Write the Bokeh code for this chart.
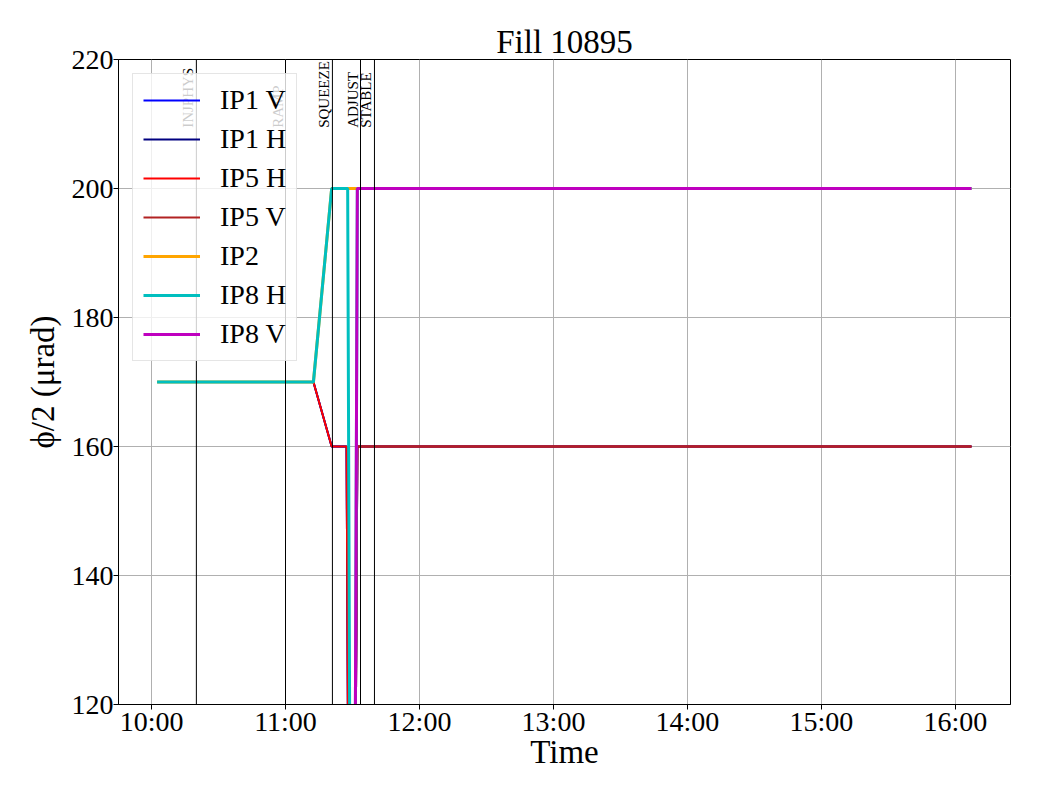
import math
import pandas as pd
from bokeh.plotting import figure
from bokeh.models import (Span, Label, Legend, LegendItem, SingleIntervalTicker,
                          DatetimeTickFormatter, Range1d, FixedTicker)
from bokeh.embed import file_html
from bokeh.resources import INLINE

DAY = "2025-07-14 "

# ---- data ----
t_ip1 = ["10:02:30", "11:12:30", "11:20:40", "11:27:20", "11:29:40", "11:32:10", "16:07:10"]
v_ip1 = [170, 170, 160, 160, 0, 160, 160]
t_ip5h = t_ip1
v_ip5h = v_ip1
t_ip5v = ["11:29:40", "11:32:10", "16:07:10"]
v_ip5v = [0, 160, 160]
t_ip2 = ["10:02:30", "11:12:30", "11:20:40", "16:07:10"]
v_ip2 = [170, 170, 200, 200]
t_ip8h = ["10:02:30", "11:12:30", "11:20:40", "11:27:50", "11:30:00", "11:32:10", "16:07:10"]
v_ip8h = [170, 170, 200, 200, 0, 200, 200]
t_ip8v = ["11:30:00", "11:32:10", "16:07:10"]
v_ip8v = [0, 200, 200]

event_names = ["INJPHYS", "RAMP", "SQUEEZE", "ADJUST", "STABLE"]
event_times = ["10:20:05", "11:00:00", "11:21:00", "11:33:35", "11:39:50"]

series = [
    ("IP1 V", t_ip1, v_ip1, "#0000ff", 2),
    ("IP1 H", t_ip1, v_ip1, "#000080", 2),
    ("IP5 H", t_ip5h, v_ip5h, "#ff0000", 2),
    ("IP5 V", t_ip5v, v_ip5v, "#b22222", 2),
    ("IP2", t_ip2, v_ip2, "#ffa500", 3),
    ("IP8 H", t_ip8h, v_ip8h, "#00bfbf", 3),
    ("IP8 V", t_ip8v, v_ip8v, "#bf00bf", 3),
]

def ts(s):
    return pd.Timestamp(DAY + s)

def ms(s):
    return pd.Timestamp(DAY + s).value / 1e6

FONT = "Liberation Serif"

p = figure(width=1040, height=800, x_axis_type="datetime",
           output_backend="svg", toolbar_location=None,
           x_range=Range1d(ms("09:45:13"), ms("16:24:38")),
           y_range=Range1d(120, 220),
           min_border_left=118, min_border_right=30,
           min_border_top=59, min_border_bottom=96,
           title="Fill 10895")

p.title.align = "center"
p.title.text_font = FONT
p.title.text_font_size = "33px"
p.title.text_font_style = "normal"
p.title.text_color = "black"
p.title.standoff = 0

ticker = SingleIntervalTicker(interval=3600 * 1000, num_minor_ticks=0)
p.xaxis.ticker = ticker
p.xgrid.ticker = ticker
p.xaxis.formatter = DatetimeTickFormatter(hours="%H:%M", hourmin="%H:%M",
                                          minutes="%H:%M", days="%H:%M")
yt = FixedTicker(ticks=[120, 140, 160, 180, 200, 220])
p.yaxis.ticker = yt
p.ygrid.ticker = yt

for ax in (p.xaxis, p.yaxis):
    ax.major_label_text_font = FONT
    ax.major_label_text_font_size = "28px"
    ax.major_label_text_color = "black"
    ax.axis_label_text_font = FONT
    ax.axis_label_text_font_size = "33px"
    ax.axis_label_text_font_style = "normal"
    ax.axis_label_text_color = "black"
    ax.major_tick_out = 5
    ax.major_tick_in = 0
    ax.major_tick_line_color = "black"
    ax.minor_tick_line_color = None
    ax.major_label_standoff = 0
    ax.axis_line_color = "black"

p.xaxis.major_label_standoff = -4
p.xaxis.axis_label = "Time"
p.yaxis.axis_label = "ϕ/2 (μrad)"
p.xaxis.axis_label_standoff = -6
p.yaxis.axis_label_standoff = 8

p.outline_line_color = "black"
p.outline_line_width = 1
p.grid.grid_line_color = "#b0b0b0"
p.grid.grid_line_width = 1

renderers = []
for name, t, v, col, lw in series:
    r = p.line([ts(x) for x in t], v, line_color=col, line_width=lw)
    renderers.append((name, r))

for name, t in zip(event_names, event_times):
    p.add_layout(Span(location=ms(t), dimension="height",
                      line_color="black", line_width=1))
    p.add_layout(Label(x=ms(t), y=209.4, text=name, angle=math.pi / 2,
                       text_align="left", text_baseline="bottom",
                       text_font=FONT, text_font_size="15px",
                       text_color="black"))

legend = Legend(items=[LegendItem(label=n, renderers=[r]) for n, r in renderers],
                location="top_left", margin=14, padding=10, spacing=7,
                glyph_width=57, glyph_height=32, label_height=32,
                label_standoff=20,
                label_text_font=FONT, label_text_font_size="28px",
                label_text_color="black",
                border_line_color="#cccccc", border_line_width=1,
                background_fill_color="white", background_fill_alpha=0.8)
p.add_layout(legend)

open("out.html", "w").write(file_html(p, INLINE))
